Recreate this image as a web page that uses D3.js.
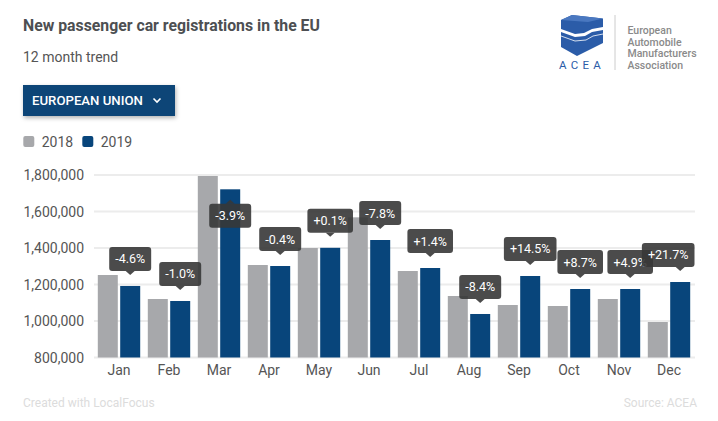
<!DOCTYPE html>
<html><head><meta charset="utf-8">
<script src="https://cdn.jsdelivr.net/npm/d3@7"></script>
<style>
html,body{margin:0;padding:0;background:#fff;}
svg{display:block;font-family:Roboto,"Noto Sans",sans-serif;}
</style></head>
<body><div id="chart"></div>
<script>
const months = ["Jan","Feb","Mar","Apr","May","Jun","Jul","Aug","Sep","Oct","Nov","Dec"];
const seriesNames = ["2018","2019"];
const values2018 = [1252000,1120500,1794500,1306800,1400000,1568000,1274000,1137000,1087700,1082200,1120500,994500];
const values2019 = [1192000,1109600,1721600,1301300,1401000,1443800,1290400,1038400,1246600,1175300,1175300,1213700];
const changeLabels = ["-4.6%","-1.0%","-3.9%","-0.4%","+0.1%","-7.8%","+1.4%","-8.4%","+14.5%","+8.7%","+4.9%","+21.7%"];
const yTicks = [800000,1000000,1200000,1400000,1600000,1800000];
const colors = {"2018":"#a7a8ab","2019":"#08457b"};

const W=718,H=421;
const svg=d3.select("#chart").append("svg").attr("width",W).attr("height",H);
const defs=svg.append("defs");
const f=defs.append("filter").attr("id","sh").attr("x","-10%").attr("y","-20%").attr("width","130%").attr("height","160%");
f.append("feDropShadow").attr("dx",1).attr("dy",2).attr("stdDeviation",2).attr("flood-color","#000").attr("flood-opacity",0.3);

// Title
svg.append("text").attr("x",23).attr("y",31).attr("font-size",15.8).attr("font-weight",700).attr("fill","#4d4f52").text("New passenger car registrations in the EU");
svg.append("text").attr("x",23).attr("y",62).attr("font-size",14).attr("fill","#555").text("12 month trend");

// Dropdown
svg.append("rect").attr("x",23).attr("y",85).attr("width",152).attr("height",31).attr("fill","#0b4477").attr("filter","url(#sh)");
svg.append("text").attr("x",32).attr("y",104.5).attr("font-size",13.2).attr("font-weight",500).attr("fill","#fff").text("EUROPEAN UNION");
svg.append("polyline").attr("points","153.5,98.5 157,102 160.5,98.5").attr("fill","none").attr("stroke","#fff").attr("stroke-width",1.6);

// Legend
const lg=svg.append("g");
[[23.3,"2018",41.7],[82.3,"2019",100.7]].forEach(([x,n,tx])=>{
  lg.append("rect").attr("x",x).attr("y",136).attr("width",11).attr("height",11).attr("rx",2).attr("fill",colors[n]);
  lg.append("text").attr("x",tx).attr("y",146.5).attr("font-size",14).attr("fill","#555").text(n);
});

// Logo
const logo=svg.append("g");
const blue="#2b5ca8";
logo.append("path").attr("d","M561,20 L572,15 L603,18.5 L603,27 L592,29 L584,33 L575,34 L561,29 Z").attr("fill",blue);
logo.append("path").attr("d","M561,20 L572,15 L603,18.5 L588,22 Z").attr("fill","#4a78c0");
logo.append("path").attr("d","M561,32 L575,37 L585,36 L592,32 L603,30 L603,43 L577,56 L561,47 Z").attr("fill",blue);
logo.append("path").attr("d","M561,36 L575,41 L586,40 L593,36 L603,34").attr("fill","none").attr("stroke","#fff").attr("stroke-width",0.8);
logo.append("text").attr("x",582).attr("y",69).attr("text-anchor","middle").attr("font-size",11.5).attr("letter-spacing",4.2).attr("fill",blue).text("ACEA");
logo.append("line").attr("x1",615).attr("x2",615).attr("y1",15).attr("y2",70).attr("stroke","#ccc").attr("stroke-width",1);
["European","Automobile","Manufacturers","Association"].forEach((t,i)=>{
  logo.append("text").attr("x",627.5).attr("y",34+i*11.5).attr("font-size",10.5).attr("font-weight",500).attr("fill","#8a8a8a").text(t);
});

// Scales
const y=d3.scaleLinear().domain([800000,1800000]).range([357.5,175]);
const x0=d3.scaleBand().domain(months).range([94,694]).padding(0);
const x1=d3.scaleBand().domain(seriesNames).range([3.8,46.2]).paddingInner(0.107);

// Grid
const g=svg.append("g");
g.selectAll("line.grid").data(yTicks).join("line").attr("class","grid")
 .attr("x1",94).attr("x2",695).attr("y1",d=>y(d)).attr("y2",d=>y(d)).attr("stroke","#ececec").attr("stroke-width",2);

// Y axis labels
const yAxis=d3.axisLeft(y).tickValues(yTicks).tickFormat(d3.format(",")).tickSize(0).tickPadding(0);
const ya=svg.append("g").attr("transform","translate(84,0)").call(yAxis);
ya.select(".domain").remove();
ya.selectAll("text").attr("font-size",14).attr("fill","#555").attr("font-family","Roboto,sans-serif").attr("dy","0.35em");

// X axis labels
const xAxis=d3.axisBottom(x0).tickSize(0).tickPadding(0);
const xa=svg.append("g").attr("transform","translate(0,367)").call(xAxis);
xa.select(".domain").remove();
xa.selectAll("text").attr("font-size",14).attr("fill","#555").attr("font-family","Roboto,sans-serif").attr("dy","0.6em");

// Bars
const data=months.map((m,i)=>({m,v:{"2018":values2018[i],"2019":values2019[i]},c:changeLabels[i]}));
const grp=svg.append("g").selectAll("g").data(data).join("g").attr("transform",d=>`translate(${x0(d.m)},0)`);
grp.selectAll("rect").data(d=>seriesNames.map(s=>({s,v:d.v[s]}))).join("rect")
 .attr("x",d=>x1(d.s)).attr("width",x1.bandwidth()).attr("y",d=>y(d.v)).attr("height",d=>y(800000)-y(d.v)).attr("fill",d=>colors[d.s]);

// Tooltips
const tt=svg.append("g");
data.forEach(d=>{
  const cx=x0(d.m)+x1("2019")+x1.bandwidth()/2;
  const top=y(d.v["2019"]);
  const gg=tt.append("g");
  const txt=gg.append("text").attr("font-size",12.5).attr("fill","#fff").attr("text-anchor","middle").text(d.c);
  const tw=txt.node().getComputedTextLength();
  const bw=tw+12, bh=24;
  let bx=cx-bw/2;
  if(bx+bw>694.5) bx=694.5-bw;
  if(bx<94) bx=94;
  let flip = (top-39) < 170;
  let by, tri;
  if(!flip){
    by=top-39;
    tri=`M${cx-4.5},${by+bh} L${cx},${by+bh+4} L${cx+4.5},${by+bh} Z`;
  } else {
    by=top+14.5;
    tri=`M${cx-4.5},${by} L${cx},${by-4} L${cx+4.5},${by} Z`;
  }
  gg.insert("rect","text").attr("x",bx).attr("y",by).attr("width",bw).attr("height",bh).attr("rx",3).attr("fill","rgba(55,55,55,0.9)");
  gg.insert("path","text").attr("d",tri).attr("fill","rgba(55,55,55,0.9)");
  txt.attr("x",bx+bw/2).attr("y",by+16.5);
});

// Footer
svg.append("text").attr("x",23).attr("y",407).attr("font-size",12).attr("fill","#dcdcdc").text("Created with LocalFocus");
svg.append("text").attr("x",697).attr("y",407).attr("text-anchor","end").attr("font-size",12).attr("fill","#dcdcdc").text("Source: ACEA");
</script></body></html>
